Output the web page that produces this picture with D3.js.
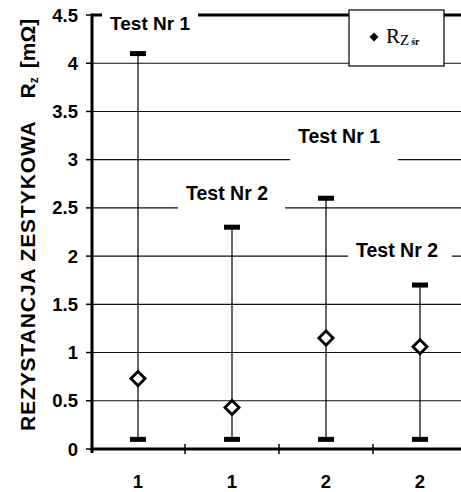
<!DOCTYPE html>
<html>
<head>
<meta charset="utf-8">
<script src="https://cdn.jsdelivr.net/npm/d3@7"></script>
<style>
  html, body { margin: 0; padding: 0; background: #fff; }
  svg { display: block; }
</style>
</head>
<body>
<svg id="chart" width="461" height="492"></svg>
<script>
// Contact resistance per test: min / max range and mean value
const categories = ["1", "1", "2", "2"];
const maxValues  = [4.1, 2.3, 2.6, 1.7];
const minValues  = [0.1, 0.1, 0.1, 0.1];
const meanValues = [0.73, 0.43, 1.15, 1.06];
const yTicks = [0, 0.5, 1, 1.5, 2, 2.5, 3, 3.5, 4, 4.5];
const yTickLabels = ["0", "0.5", "1", "1.5", "2", "2.5", "3", "3.5", "4", "4.5"];

const svg = d3.select("#chart");
const font = "'Liberation Sans', Arial, sans-serif";

const x = d3.scaleBand().domain(d3.range(categories.length)).range([91, 467]);
const y = d3.scaleLinear().domain([0, 4.5]).range([449, 15]);
const xLeft = 92, xRight = 461;

// horizontal gridlines
svg.append("g").selectAll("line").data(yTicks.filter(v => v > 0 && v < 4.5)).join("line")
  .attr("x1", xLeft).attr("x2", xRight)
  .attr("y1", d => y(d)).attr("y2", d => y(d))
  .attr("stroke", "#111").attr("stroke-width", 1.1);

// top frame line
svg.append("line").attr("x1", xLeft).attr("x2", xRight)
  .attr("y1", y(4.5)).attr("y2", y(4.5))
  .attr("stroke", "#000").attr("stroke-width", 3);

// test labels on white patches
const labels = [
  { text: "Test Nr 1", cx: 150, base: 30, size: 19, box: [102, 4, 96, 17] },
  { text: "Test Nr 1", cx: 339, base: 143, size: 19.5, box: [290, 122, 108, 40] },
  { text: "Test Nr 2", cx: 227, base: 200, size: 19.5, box: [178, 180, 107, 30] },
  { text: "Test Nr 2", cx: 397, base: 257, size: 19.5, box: [348, 238, 104, 21] }
];
const lg = svg.append("g");
lg.selectAll("rect").data(labels).join("rect")
  .attr("x", d => d.box[0]).attr("y", d => d.box[1])
  .attr("width", d => d.box[2]).attr("height", d => d.box[3])
  .attr("fill", "#fff");
lg.selectAll("text").data(labels).join("text")
  .attr("x", d => d.cx).attr("y", d => d.base)
  .attr("text-anchor", "middle")
  .attr("font-family", font).attr("font-weight", "bold")
  .attr("font-size", d => d.size).attr("fill", "#000")
  .text(d => d.text);

// y axis
const yAxis = svg.append("g");
yAxis.append("line").attr("x1", xLeft).attr("x2", xLeft)
  .attr("y1", y(4.5) - 1.5).attr("y2", 453)
  .attr("stroke", "#000").attr("stroke-width", 3);
yAxis.selectAll("line.tick").data(yTicks).join("line").attr("class", "tick")
  .attr("x1", 86).attr("x2", xLeft)
  .attr("y1", d => y(d)).attr("y2", d => y(d))
  .attr("stroke", "#000").attr("stroke-width", 1.5);
yAxis.selectAll("text").data(yTicks).join("text")
  .attr("x", 78).attr("y", d => y(d) + 6.5)
  .attr("text-anchor", "end")
  .attr("font-family", font).attr("font-weight", "bold").attr("font-size", 18.5)
  .text((d, i) => yTickLabels[i]);

// x axis
const xAxis = svg.append("g");
xAxis.append("line").attr("x1", xLeft - 1.5).attr("x2", xRight)
  .attr("y1", y(0)).attr("y2", y(0))
  .attr("stroke", "#000").attr("stroke-width", 3);
xAxis.selectAll("line.tick").data(d3.range(1, categories.length)).join("line").attr("class", "tick")
  .attr("x1", d => x(d)).attr("x2", d => x(d))
  .attr("y1", y(0) - 5).attr("y2", y(0) + 5)
  .attr("stroke", "#000").attr("stroke-width", 1.5);
xAxis.selectAll("text").data(categories).join("text")
  .attr("x", (d, i) => x(i) + x.bandwidth() / 2).attr("y", 488)
  .attr("text-anchor", "middle")
  .attr("font-family", font).attr("font-weight", "bold").attr("font-size", 18.5)
  .text(d => d);

// range whiskers with caps
const marks = svg.append("g");
const cx = i => x(i) + x.bandwidth() / 2;
marks.selectAll("line").data(categories).join("line")
  .attr("x1", (d, i) => cx(i)).attr("x2", (d, i) => cx(i))
  .attr("y1", (d, i) => y(maxValues[i])).attr("y2", (d, i) => y(minValues[i]))
  .attr("stroke", "#000").attr("stroke-width", 1.2);
const capW = 16, capH = 5;
marks.selectAll("rect.max").data(maxValues).join("rect").attr("class", "max")
  .attr("x", (d, i) => cx(i) - capW / 2).attr("y", d => y(d) - capH / 2)
  .attr("width", capW).attr("height", capH).attr("fill", "#000");
marks.selectAll("rect.min").data(minValues).join("rect").attr("class", "min")
  .attr("x", (d, i) => cx(i) - capW / 2).attr("y", d => y(d) - capH / 2)
  .attr("width", capW).attr("height", capH).attr("fill", "#000");

// mean markers: open diamonds
const diamond = d3.symbol().type(d3.symbolSquare).size(100);
marks.selectAll("path").data(meanValues).join("path")
  .attr("d", diamond)
  .attr("transform", (d, i) => `translate(${cx(i)},${y(d)}) rotate(45)`)
  .attr("fill", "#fff").attr("stroke", "#000").attr("stroke-width", 2.8);

// legend
const leg = svg.append("g");
leg.append("rect").attr("x", 349).attr("y", 10).attr("width", 95).attr("height", 56)
  .attr("fill", "#fff").attr("stroke", "#000").attr("stroke-width", 1.2);
leg.append("path").attr("d", d3.symbol().type(d3.symbolSquare).size(40))
  .attr("transform", "translate(374,37) rotate(45)").attr("fill", "#000");
const lt = leg.append("text").attr("x", 386).attr("y", 43)
  .attr("font-family", "'Liberation Serif', 'Times New Roman', serif").attr("font-size", 21);
lt.append("tspan").text("R");
lt.append("tspan").attr("font-size", 15).attr("dy", 2).text("Z");
lt.append("tspan").attr("font-size", 10).attr("font-weight", "bold").attr("dx", 2).text("śr");

// y axis title
const yt = svg.append("text")
  .attr("transform", "translate(35,431) rotate(-90)")
  .attr("font-family", font).attr("font-weight", "bold").attr("font-size", 21);
yt.append("tspan").attr("letter-spacing", 0.9).text("REZYSTANCJA ZESTYKOWA");
yt.append("tspan").attr("dx", 22).text("R");
yt.append("tspan").attr("font-size", 12).attr("dy", 3).text("z");
yt.append("tspan").attr("dy", -3).attr("dx", 9).text("[mΩ]");
</script>
</body>
</html>
